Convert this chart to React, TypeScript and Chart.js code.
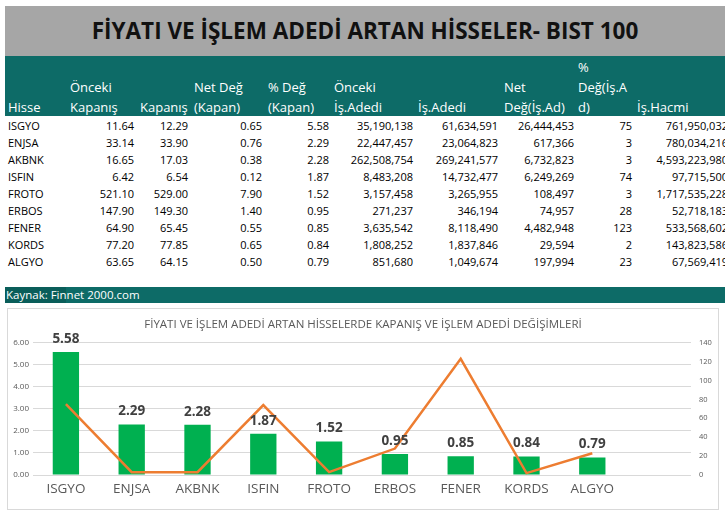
import React, { useEffect, useRef } from "react";
import { Chart, registerables } from "chart.js";

Chart.register(...registerables);

const hisse = ["ISGYO", "ENJSA", "AKBNK", "ISFIN", "FROTO", "ERBOS", "FENER", "KORDS", "ALGYO"];
const oncekiKapanis = [11.64, 33.14, 16.65, 6.42, 521.1, 147.9, 64.9, 77.2, 63.65];
const kapanis = [12.29, 33.9, 17.03, 6.54, 529.0, 149.3, 65.45, 77.85, 64.15];
const netDegKapan = [0.65, 0.76, 0.38, 0.12, 7.9, 1.4, 0.55, 0.65, 0.5];
const pctDegKapan = [5.58, 2.29, 2.28, 1.87, 1.52, 0.95, 0.85, 0.84, 0.79];
const oncekiIsAdedi = [35190138, 22447457, 262508754, 8483208, 3157458, 271237, 3635542, 1808252, 851680];
const isAdedi = [61634591, 23064823, 269241577, 14732477, 3265955, 346194, 8118490, 1837846, 1049674];
const netDegIsAd = [26444453, 617366, 6732823, 6249269, 108497, 74957, 4482948, 29594, 197994];
const pctDegIsAd = [75, 3, 3, 74, 3, 28, 123, 2, 23];
const isHacmi = [761950032, 780034216, 4593223980, 97715500, 1717535228, 52718183, 533568602, 143823586, 67569419];

const headers = [
  ["Hisse"],
  ["Önceki", "Kapanış"],
  ["Kapanış"],
  ["Net Değ", "(Kapan)"],
  ["% Değ", "(Kapan)"],
  ["Önceki", "İş.Adedi"],
  ["İş.Adedi"],
  ["Net", "Değ(İş.Ad)"],
  ["%", "Değ(İş.A", "d)"],
  ["İş.Hacmi"],
];
const headerLeft = [8, 70, 140, 194, 268, 334, 418, 504, 578, 637];
const colRight = [134, 188, 262, 329, 413, 498, 574, 632, 728];

const leftTicks = [0, 1, 2, 3, 4, 5, 6];
const rightTicks = [0, 20, 40, 60, 80, 100, 120, 140];

const mainTitle = "FİYATI VE İŞLEM ADEDİ ARTAN HİSSELER- BIST 100";
const chartTitle = "FİYATI VE İŞLEM ADEDİ ARTAN HİSSELERDE KAPANIŞ VE İŞLEM ADEDİ DEĞİŞİMLERİ";
const sourceText = "Kaynak: Finnet 2000.com";

const FONT = "'Open Sans', 'DejaVu Sans', sans-serif";
const TEAL = "#0d6b67";

const f2 = (v: number) => v.toFixed(2);
const fi = (v: number) => v.toLocaleString("en-US");

const columns: string[][] = [
  oncekiKapanis.map(f2),
  kapanis.map(f2),
  netDegKapan.map(f2),
  pctDegKapan.map(f2),
  oncekiIsAdedi.map(fi),
  isAdedi.map(fi),
  netDegIsAd.map(fi),
  pctDegIsAd.map(fi),
  isHacmi.map(fi),
];

const labelPlugin = {
  id: "barLabels",
  afterDraw(chart: any) {
    const meta = chart.getDatasetMeta(0);
    const ctx = chart.ctx;
    ctx.save();
    ctx.font = `bold 13.5px ${FONT}`;
    ctx.fillStyle = "#404040";
    ctx.textAlign = "center";
    ctx.textBaseline = "middle";
    meta.data.forEach((bar: any, i: number) => {
      const v = pctDegKapan[i];
      if (v === undefined) return;
      ctx.fillText(v.toFixed(2), bar.x, bar.y - 13);
    });
    ctx.restore();
  },
};

function ComboChart() {
  const ref = useRef<HTMLCanvasElement>(null);
  useEffect(() => {
    if (!ref.current) return;
    const chart = new Chart(ref.current, {
      type: "bar",
      data: {
        labels: [...hisse, ""],
        datasets: [
          {
            type: "bar",
            label: "% Değ (Kapan)",
            data: [...pctDegKapan, null] as any,
            backgroundColor: "#00b050",
            categoryPercentage: 0.8,
            barPercentage: 0.5,
            yAxisID: "y",
            order: 1,
          },
          {
            type: "line",
            label: "% Değ(İş.Ad)",
            data: [...pctDegIsAd, null] as any,
            borderColor: "#ed7d31",
            borderWidth: 2.5,
            pointRadius: 0,
            tension: 0,
            yAxisID: "y1",
            order: 0,
          } as any,
        ],
      },
      options: {
        animation: false,
        responsive: false,
        maintainAspectRatio: false,
        layout: { padding: 0 },
        plugins: {
          legend: { display: false },
          tooltip: { enabled: false },
          title: {
            display: true,
            text: chartTitle,
            color: "#595959",
            font: { family: FONT, size: 11.5, weight: "normal" },
            padding: { top: 9, bottom: 11 },
          },
        },
        scales: {
          x: {
            grid: { display: false, drawTicks: false },
            border: { display: false },
            ticks: { color: "#595959", font: { family: FONT, size: 13.5 }, padding: 6 },
            afterFit: (s: any) => {
              s.height = 34;
            },
          },
          y: {
            position: "left",
            min: leftTicks[0],
            max: leftTicks[leftTicks.length - 1],
            afterBuildTicks: (s: any) => {
              s.ticks = leftTicks.map((v) => ({ value: v }));
            },
            grid: { color: "#d9d9d9", drawTicks: false, lineWidth: 1 },
            border: { display: false },
            ticks: {
              color: "#595959",
              font: { family: FONT, size: 8 },
              padding: 4,
              callback: (v: any) => Number(v).toFixed(2),
            },
            afterFit: (s: any) => {
              s.width = 25;
            },
          },
          y1: {
            position: "right",
            min: rightTicks[0],
            max: rightTicks[rightTicks.length - 1],
            afterBuildTicks: (s: any) => {
              s.ticks = rightTicks.map((v) => ({ value: v }));
            },
            grid: { display: false, drawTicks: false },
            border: { display: false },
            ticks: {
              color: "#595959",
              font: { family: FONT, size: 7.5 },
              padding: 8,
              callback: (v: any) => String(v),
            },
            afterFit: (s: any) => {
              s.width = 27;
            },
          },
        },
      } as any,
      plugins: [labelPlugin],
    });
    return () => chart.destroy();
  }, []);
  return <canvas ref={ref} width={710} height={200} style={{ display: "block", width: 710, height: 200 }} />;
}

export default function App() {
  return (
    <div
      style={{
        position: "absolute",
        left: 0,
        top: 0,
        width: 725,
        height: 516,
        overflow: "hidden",
        background: "#fff",
        fontFamily: FONT,
      }}
    >
      <div style={{ position: "absolute", left: 5, top: 6, width: 720, height: 50, background: "#a6a6a6" }} />
      <div
        style={{
          position: "absolute",
          left: 5,
          top: 6,
          width: 720,
          height: 50,
          lineHeight: "50px",
          textAlign: "center",
          fontWeight: 700,
          fontSize: 22.5,
          color: "#111",
          whiteSpace: "nowrap",
        }}
      >
        {mainTitle}
      </div>
      <div style={{ position: "absolute", left: 5, top: 56, width: 720, height: 60, background: TEAL }} />
      {headers.map((lines, i) => (
        <div
          key={"h" + i}
          style={{
            position: "absolute",
            left: headerLeft[i],
            top: 97 - 20 * (lines.length - 1),
            fontSize: 13,
            lineHeight: "20px",
            color: "#fff",
            whiteSpace: "nowrap",
          }}
        >
          {lines.map((l, j) => (
            <div key={j}>{l}</div>
          ))}
        </div>
      ))}
      {hisse.map((h, r) => (
        <div
          key={"r" + r}
          style={{
            position: "absolute",
            left: 8,
            top: 117 + 17 * r,
            height: 17,
            lineHeight: "17px",
            fontSize: 11,
            color: "#000",
          }}
        >
          {h}
        </div>
      ))}
      {columns.map((col, c) =>
        col.map((txt, r) => (
          <div
            key={"c" + c + "_" + r}
            style={{
              position: "absolute",
              left: colRight[c] - 120,
              width: 120,
              textAlign: "right",
              top: 117 + 17 * r,
              height: 17,
              lineHeight: "17px",
              fontSize: 11,
              color: "#000",
              whiteSpace: "nowrap",
            }}
          >
            {txt}
          </div>
        ))
      )}
      <div style={{ position: "absolute", left: 5, top: 287, width: 720, height: 16, background: TEAL }} />
      <div style={{ position: "absolute", left: 5, top: 287, width: 61, height: 16, background: "#0a5e5a" }} />
      <div
        style={{
          position: "absolute",
          left: 6,
          top: 287,
          height: 16,
          lineHeight: "16px",
          fontSize: 11.5,
          color: "#fff",
          whiteSpace: "nowrap",
        }}
      >
        {sourceText}
      </div>
      <div
        style={{
          position: "absolute",
          left: 7,
          top: 308,
          width: 710,
          height: 200,
          border: "1px solid #d9d9d9",
        }}
      >
        <ComboChart />
      </div>
    </div>
  );
}
